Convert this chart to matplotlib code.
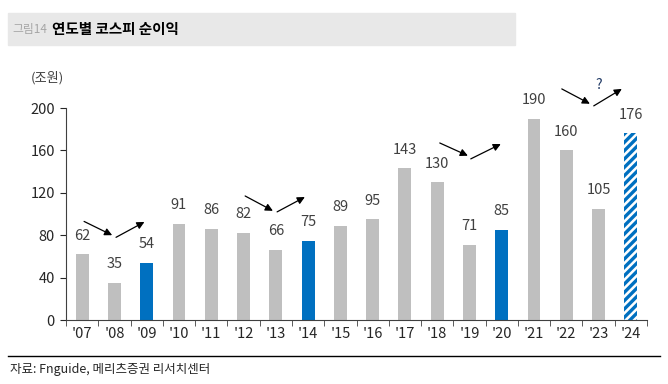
import matplotlib
matplotlib.use("Agg")
import matplotlib.pyplot as plt
from matplotlib.lines import Line2D
from matplotlib.patches import Rectangle

plt.rcParams["font.family"] = ["Noto Sans CJK KR", "DejaVu Sans"]
plt.rcParams["hatch.linewidth"] = 2.4

years = ["'07", "'08", "'09", "'10", "'11", "'12", "'13", "'14", "'15",
         "'16", "'17", "'18", "'19", "'20", "'21", "'22", "'23", "'24"]
profits = [62, 35, 54, 91, 86, 82, 66, 75, 89, 95, 143, 130, 71, 85, 190, 160, 105, 176]
highlight = ["'09", "'14", "'20"]
forecast = ["'24"]

# arrow pairs (down then up), in category index / value units
arrows = [
    ((0.06, 93), (0.93, 80)), ((1.05, 78), (1.93, 92.5)),
    ((5.05, 117), (5.91, 103)), ((6.04, 102), (6.90, 116)),
    ((11.08, 167), (11.95, 155)), ((12.04, 152), (12.97, 166)),
    ((14.86, 218), (15.73, 204)), ((15.85, 202), (16.72, 218)),
]

GRAY = "#bfbfbf"
BLUE = "#0070c0"
TXT = "#404040"

fig = plt.figure(figsize=(6.68, 3.84), dpi=100)

# title band
fig.patches.append(Rectangle((8 / 668, 1 - 45 / 384), 507 / 668, 32 / 384,
                             transform=fig.transFigure, color="#e8e8e8", zorder=0))
fig.text(12 / 668, 1 - 29 / 384, "그림14", fontsize=8.5, color="#a6a6a6", va="center")
fig.text(52 / 668, 1 - 29 / 384, "연도별 코스피 순이익", fontsize=10.5, fontweight="bold",
         color="black", va="center")

ax = fig.add_axes([66 / 668, 1 - 320 / 384, 581 / 668, 212 / 384])

x = list(range(len(years)))
for i, (yr, v) in enumerate(zip(years, profits)):
    if yr in forecast:
        ax.bar(i, v, width=0.4, facecolor="white", edgecolor=BLUE, hatch="////",
               linewidth=0, zorder=2)
    else:
        ax.bar(i, v, width=0.4, color=BLUE if yr in highlight else GRAY, zorder=2)
    ax.text(i, v + 11, str(v), ha="center", va="bottom", fontsize=10.5, color=TXT)

for (x0, y0), (x1, y1) in arrows:
    ax.annotate("", xy=(x1, y1), xytext=(x0, y0), annotation_clip=False,
                arrowprops=dict(arrowstyle="-|>", color="black", lw=0.9,
                                mutation_scale=11, shrinkA=0, shrinkB=0))
ax.text(15.99, 221.5, "?", ha="center", va="center", fontsize=10, color="#1f3864")

ax.set_xlim(-0.5, len(years) - 0.5)
ax.set_ylim(0, 200)
ax.set_yticks(range(0, 201, 40))
ax.set_xticks(x)
ax.set_xticklabels(years)
ax.set_xticks([i + 0.5 for i in range(-1, len(years))], minor=True)
ax.tick_params(axis="x", which="major", length=0, pad=5, labelsize=10.5, colors="#262626")
ax.tick_params(axis="x", which="minor", length=4, direction="out", color="#404040")
ax.tick_params(axis="y", length=4, direction="out", labelsize=10.5, colors="#262626",
               pad=4)
for s in ["top", "right"]:
    ax.spines[s].set_visible(False)
ax.spines["left"].set_color("#404040")
ax.spines["bottom"].set_color("#404040")

fig.text(47 / 668, 1 - 78 / 384, "(조원)", fontsize=9.5, color="#404040",
         ha="center", va="center")

fig.add_artist(Line2D([8 / 668, 660 / 668], [1 - 356 / 384] * 2, color="black", lw=1))
fig.text(10 / 668, 1 - 370 / 384, "자료: Fnguide, 메리츠증권 리서치센터", fontsize=9,
         color="#262626", va="center")

fig.savefig("out.png", dpi=100)
